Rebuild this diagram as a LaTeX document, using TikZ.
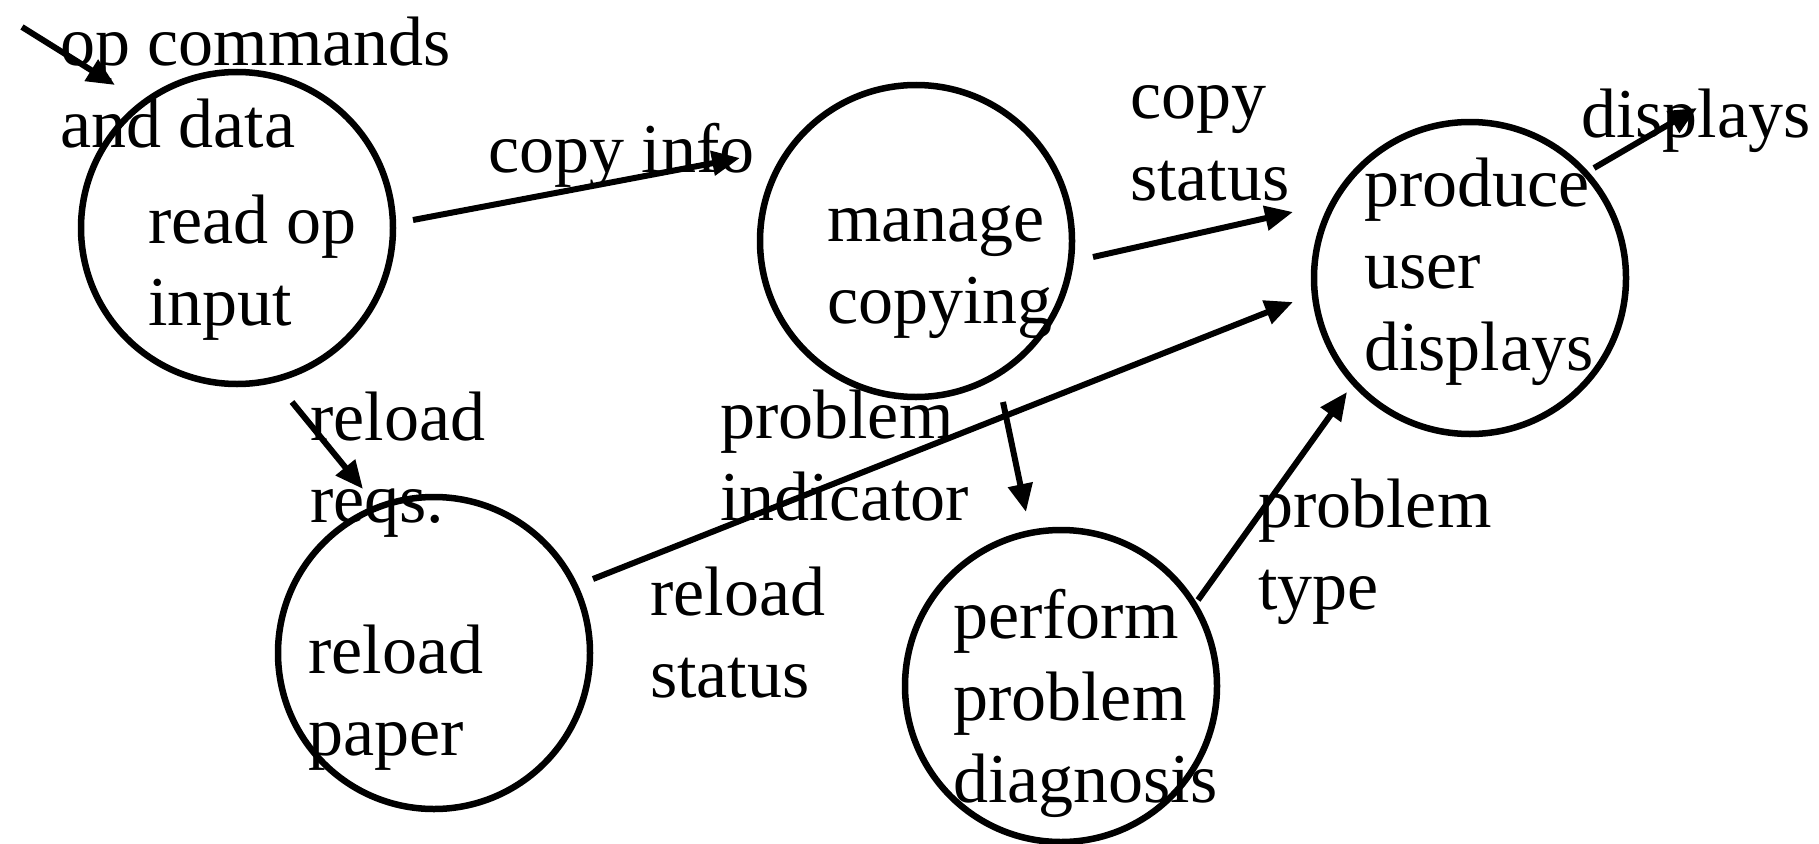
\documentclass[tikz,border=0pt]{standalone}
\usepackage{fontspec}
\setmainfont{Liberation Serif}
\usetikzlibrary{arrows.meta}
\begin{document}
\begin{tikzpicture}[x=1pt,y=-1pt,
  proc/.style={circle,draw,line width=6.5pt,minimum size=312pt,inner sep=0pt},
  lbl/.style={anchor=base west,inner sep=0pt,align=left,font=\fontsize{70}{82}\selectfont},
  flow/.style={line width=6pt,-{Triangle[length=28pt,width=24pt]}}]
\useasboundingbox (0,0) rectangle (1819,843);
% processes
\node[proc] (rd) at (237,228) {};
\node[proc] (mc) at (916,241) {};
\node[proc] (pu) at (1470,278) {};
\node[proc] (rp) at (434,653) {};
\node[proc] (pd) at (1061,686) {};
% process texts (anchored at the baseline of the last line)
\node[lbl] (rdT) at (148,325) {read op\\input};
\node[lbl] (mcT) at (827,323) {manage\\copying};
\node[lbl] (puT) at (1364,370) {produce\\user\\displays};
\node[lbl] (rpT) at (308,755) {reload\\paper};
\node[lbl] (pdT) at (953,802) {perform\\problem\\diagnosis};
% flow labels
\node[lbl] (l1) at (60,147) {op commands\\and data};
\node[lbl] (l2) at (488,172) {copy info};
\node[lbl] (l3) at (1130,200) {copy\\status};
\node[lbl] (l4) at (1581,137) {displays};
\node[lbl] (l5) at (310,522) {reload\\reqs.};
\node[lbl] (l6) at (720,520) {problem\\indicator};
\node[lbl] (l7) at (650,697) {reload\\status};
\node[lbl] (l8) at (1258,609) {problem\\type};
% free ends
\coordinate (src) at (22,27);
\coordinate (snk) at (1697,108);
% flows
\draw[flow] (src) -- ([shift={(-122,-143)}]rd.center);
\draw[flow] ([shift={(176,-8)}]rd.center) -- ([shift={(-176,-83)}]mc.center);
\draw[flow] ([shift={(177,16)}]mc.center) -- ([shift={(-177,-66)}]pu.center);
\draw[flow] ([shift={(124,-110)}]pu.center) -- (snk);
\draw[flow] ([shift={(55,174)}]rd.center) -- ([shift={(-71,-164)}]rp.center);
\draw[flow] ([shift={(159,-74)}]rp.center) -- ([shift={(-177,24)}]pu.center);
\draw[flow] ([shift={(87,161)}]mc.center) -- ([shift={(-35,-174)}]pd.center);
\draw[flow] ([shift={(137,-86)}]pd.center) -- ([shift={(-123,114)}]pu.center);
\end{tikzpicture}
\end{document}
